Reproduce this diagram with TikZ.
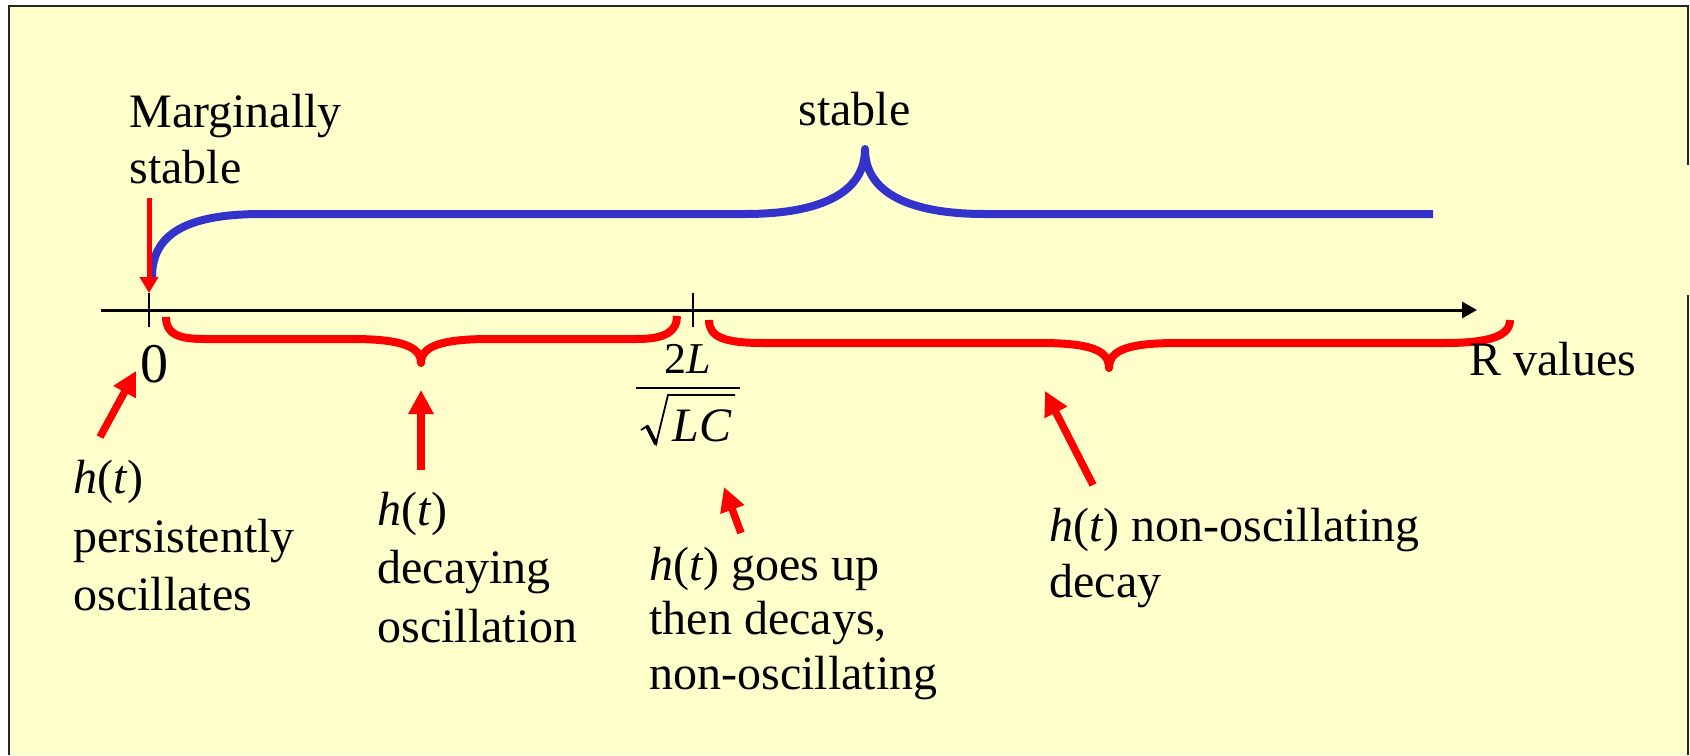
\documentclass[tikz,border=0pt]{standalone}
\usepackage{fontspec}
\setmainfont{Liberation Serif}
\usetikzlibrary{arrows.meta}
\definecolor{bgyellow}{HTML}{FFFFCC}
\definecolor{braceblue}{HTML}{3333CC}
\definecolor{arrred}{HTML}{FF0000}
\begin{document}
\begin{tikzpicture}[x=0.5pt,y=-0.5pt,
  lbl/.style={anchor=base west, inner sep=0pt, font=\fontsize{24}{28}\selectfont},
  redbrace/.style={draw=arrred, line width=4pt, line join=round},
  bluebrace/.style={draw=braceblue, line width=4pt, line join=round},
  redarrow/.style={draw=arrred, line width=3.75pt, -{Triangle[length=12pt,width=12pt]}},
  frameline/.style={draw=black!85, line width=1pt},
  tickline/.style={draw=black, line width=1pt}]
\useasboundingbox (0,0) rectangle (1690,755);
\fill[bgyellow] (9,6) rectangle (1690,755);
\draw[frameline] (9,755) -- (9,6) -- (1688,6) -- (1688,165);
\draw[frameline] (1688,295) -- (1688,755);

% axis
\coordinate (axL) at (101,310);
\coordinate (axR) at (1477,310);
\draw[line width=1.5pt, -{Triangle[length=7.5pt,width=8pt]}] (axL) -- (axR);
\coordinate (t0a) at (149,293); \coordinate (t0b) at (149,327);
\coordinate (t1a) at (693,293); \coordinate (t1b) at (693,327);
\draw[tickline] (t0a) -- (t0b);
\draw[tickline] (t1a) -- (t1b);

% blue brace
\path[bluebrace] (152,277) .. controls (152,232) and (190,214) .. (262,214)
  -- (745,214) .. controls (822,214) and (865,192) .. (865,149)
  .. controls (865,192) and (908,214) .. (985,214) -- (1433,214);

% red braces
\path[redbrace] (166,317) .. controls (166,334) and (178,339) .. (205,339)
  -- (352,339) .. controls (400,339) and (421,346) .. (421,363)
  .. controls (421,346) and (442,339) .. (490,339)
  -- (637,339) .. controls (666,339) and (677,331) .. (677,316);
\path[redbrace] (709,320) .. controls (709,337) and (724,343) .. (763,343)
  -- (1040,343) .. controls (1090,343) and (1109,350) .. (1109,368)
  .. controls (1109,350) and (1128,343) .. (1178,343)
  -- (1445,343) .. controls (1492,343) and (1510,335) .. (1510,320);

% marginally stable arrow
\coordinate (mTail) at (149,198);
\draw[draw=arrred, line width=2.5pt, -{Triangle[length=8pt,width=9pt]}] (mTail) -- (t0a);

% texts
\node[lbl] (marg1) at (129,127) {Marginally};
\node[lbl] (marg2) at (129,183) {stable};
\node[lbl] (stab) at (798,125) {stable};
\node[anchor=base, inner sep=0pt, font=\fontsize{28}{32}\selectfont] (zero) at (154,382) {0};
\node[anchor=base, inner sep=0pt, font=\fontsize{22}{26}\selectfont] (num) at (688,373) {2\textit{L}};
\coordinate (barL) at (636,388); \coordinate (barR) at (740,388);
\draw[line width=1.2pt] (barL) -- (barR);
\node[lbl] (den) at (672,441) {\textit{LC}};
\coordinate (r1) at (641,430); \coordinate (r2) at (647,426); \coordinate (r3) at (656,444);
\coordinate (r4) at (668,395); \coordinate (r5) at (735,395);
\draw[line width=0.9pt, line join=miter] (r1) -- (r2) -- (r3) -- (r4) -- (r5);
\draw[line width=2pt] (r2) -- (r3);
\node[lbl] (rval) at (1469,375) {R values};

\node[lbl] (a1) at (73,493) {\textit{h}(\textit{t})};
\node[lbl] (a2) at (73,552) {persistently};
\node[lbl] (a3) at (73,610) {oscillates};

\node[lbl] (b1) at (377,525) {\textit{h}(\textit{t})};
\node[lbl] (b2) at (377,583) {decaying};
\node[lbl] (b3) at (377,642) {oscillation};

\node[lbl] (c1) at (649,580) {\textit{h}(\textit{t}) goes up};
\node[lbl] (c2) at (649,634) {then decays,};
\node[lbl] (c3) at (649,689) {non-oscillating};

\node[lbl] (d1) at (1049,541) {\textit{h}(\textit{t}) non-oscillating};
\node[lbl] (d2) at (1049,597) {decay};

% red pointer arrows
\coordinate (p1t) at (100,437); \coordinate (p1h) at (136,371);
\coordinate (p2t) at (421,470); \coordinate (p2h) at (421,390);
\coordinate (p3t) at (741,533); \coordinate (p3h) at (724,487);
\coordinate (p4t) at (1093,485); \coordinate (p4h) at (1045,391);
\draw[redarrow] (p1t) -- (p1h);
\draw[redarrow] (p2t) -- (p2h);
\draw[redarrow] (p3t) -- (p3h);
\draw[redarrow] (p4t) -- (p4h);
\end{tikzpicture}
\end{document}
